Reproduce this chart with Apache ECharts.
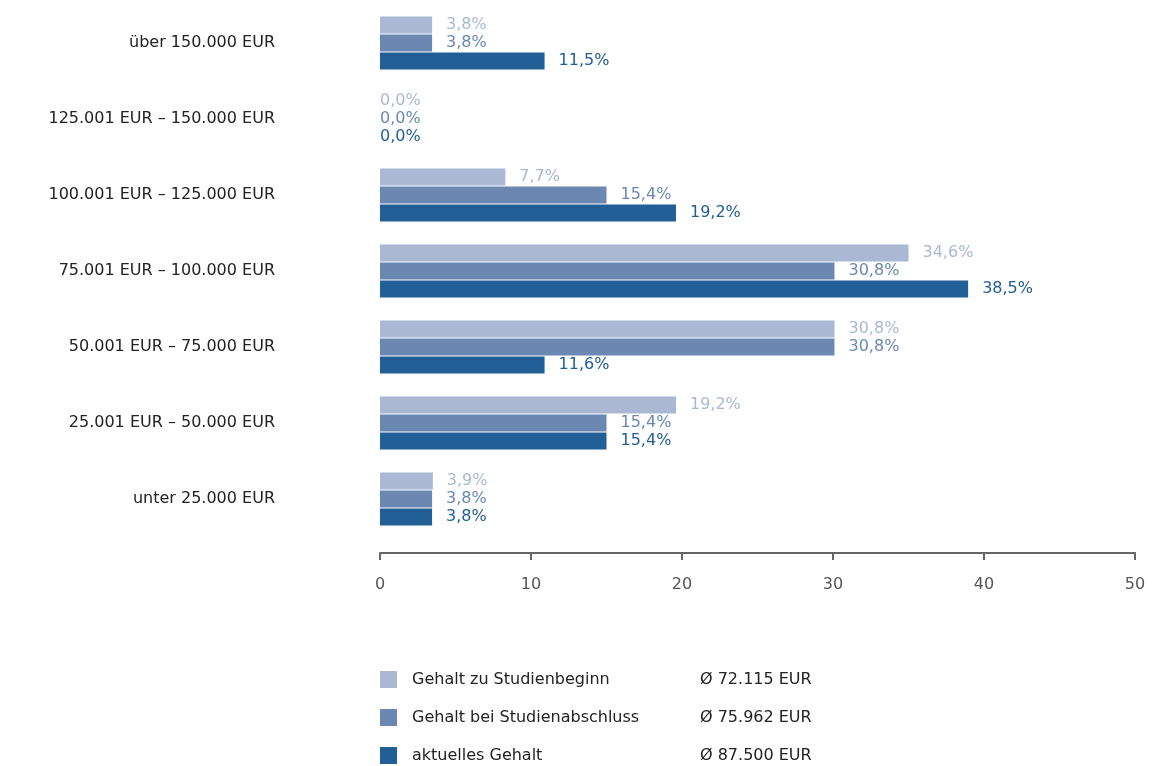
<!DOCTYPE html>
<html>
<head>
<meta charset="utf-8">
<script src="https://cdn.jsdelivr.net/npm/echarts@6/dist/echarts.min.js"></script>
<style>
  html, body { margin: 0; padding: 0; background: #fff; }
  #chart { width: 1156px; height: 766px; }
</style>
</head>
<body>
<div id="chart"></div>
<script>
const categories = [
  "über 150.000 EUR",
  "125.001 EUR – 150.000 EUR",
  "100.001 EUR – 125.000 EUR",
  "75.001 EUR – 100.000 EUR",
  "50.001 EUR – 75.000 EUR",
  "25.001 EUR – 50.000 EUR",
  "unter 25.000 EUR"
];
// bar lengths as drawn in the picture
const studienbeginn = [3.45, 0, 8.3, 35.0, 30.1, 19.6, 3.5];
const studienabschluss = [3.45, 0, 15.0, 30.1, 30.1, 15.0, 3.45];
const aktuell = [10.9, 0, 19.6, 38.95, 10.9, 15.0, 3.45];
// printed value labels
const labelsBeginn = ["3,8%", "0,0%", "7,7%", "34,6%", "30,8%", "19,2%", "3,9%"];
const labelsAbschluss = ["3,8%", "0,0%", "15,4%", "30,8%", "30,8%", "15,4%", "3,8%"];
const labelsAktuell = ["11,5%", "0,0%", "19,2%", "38,5%", "11,6%", "15,4%", "3,8%"];
const seriesNames = ["Gehalt zu Studienbeginn", "Gehalt bei Studienabschluss", "aktuelles Gehalt"];
const averages = ["Ø 72.115 EUR", "Ø 75.962 EUR", "Ø 87.500 EUR"];
const colors = ["#aab8d4", "#6b88b3", "#215f96"];

const FONT = "DejaVu Sans";

const chart = echarts.init(document.getElementById("chart"));

function makeSeries(name, values, labels, color) {
  return {
    name: name,
    type: "bar",
    data: values.map((v, i) => ({
      value: v,
      label: { distance: v === 0 ? 0 : 14, formatter: labels[i] }
    })),
    barWidth: 17,
    barGap: "6%",
    itemStyle: { color: color },
    label: {
      show: true,
      position: "right",
      color: color,
      fontFamily: FONT,
      fontSize: 16
    },
    silent: true
  };
}

function makeLegend(i, top) {
  return {
    orient: "horizontal",
    left: 380,
    top: top,
    padding: 0,
    itemWidth: 17,
    itemHeight: 17,
    icon: "rect",
    selectedMode: false,
    data: [seriesNames[i]],
    formatter: (name) => "{n|" + name + "}{a|" + averages[i] + "}",
    textStyle: {
      padding: [0, 0, 0, 10],
      rich: {
        n: { width: 288, fontSize: 16, fontFamily: FONT, color: "#222" },
        a: { fontSize: 16, fontFamily: FONT, color: "#222" }
      }
    }
  };
}

chart.setOption({
  animation: false,
  textStyle: { fontFamily: FONT },
  grid: { left: 380, right: 21, top: 5, bottom: 229 },
  legend: [makeLegend(0, 671), makeLegend(1, 709), makeLegend(2, 747)],
  xAxis: {
    type: "value",
    min: 0,
    max: 50,
    interval: 10,
    offset: 16,
    axisLine: { show: true, lineStyle: { color: "#666", width: 2 } },
    axisTick: { show: true, length: 7, lineStyle: { color: "#666", width: 2 } },
    splitLine: { show: false },
    axisLabel: { color: "#555", fontSize: 16, fontFamily: FONT, margin: 24 }
  },
  yAxis: {
    type: "category",
    data: categories,
    inverse: true,
    axisLine: { show: false },
    axisTick: { show: false },
    axisLabel: { color: "#222", fontSize: 16, fontFamily: FONT, margin: 105 }
  },
  series: [
    makeSeries(seriesNames[0], studienbeginn, labelsBeginn, colors[0]),
    makeSeries(seriesNames[1], studienabschluss, labelsAbschluss, colors[1]),
    makeSeries(seriesNames[2], aktuell, labelsAktuell, colors[2])
  ]
});
</script>
</body>
</html>
